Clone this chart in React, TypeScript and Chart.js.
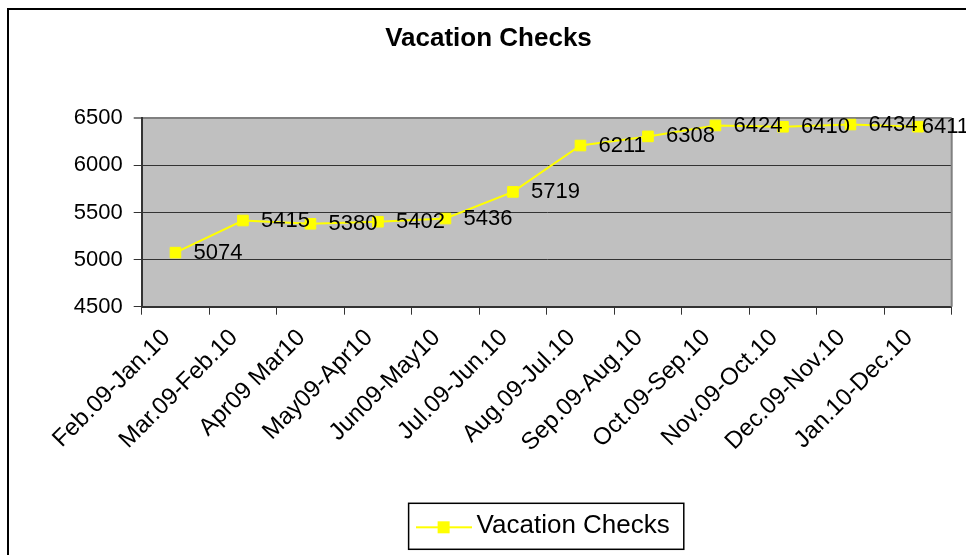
import React, { useEffect, useRef } from "react";
import { Chart, registerables } from "chart.js";

Chart.register(...registerables);

const chartTitle = "Vacation Checks";
const seriesName = "Vacation Checks";
const categories = [
  "Feb.09-Jan.10",
  "Mar.09-Feb.10",
  "Apr09 Mar10",
  "May09-Apr10",
  "Jun09-May10",
  "Jul.09-Jun.10",
  "Aug.09-Jul.10",
  "Sep.09-Aug.10",
  "Oct.09-Sep.10",
  "Nov.09-Oct.10",
  "Dec.09-Nov.10",
  "Jan.10-Dec.10",
];
const values = [5074, 5415, 5380, 5402, 5436, 5719, 6211, 6308, 6424, 6410, 6434, 6411];
const yMin = 4500;
const yMax = 6500;
const yStep = 500;

const FONT = "'Liberation Sans', Arial, Helvetica, sans-serif";
const CANVAS_W = 977;
const CANVAS_H = 575;

function makeLegendMarker(): HTMLCanvasElement {
  const c = document.createElement("canvas");
  c.width = 56;
  c.height = 16;
  const g = c.getContext("2d")!;
  g.strokeStyle = "#FFFF00";
  g.lineWidth = 2;
  g.beginPath();
  g.moveTo(0, 9);
  g.lineTo(56, 9);
  g.stroke();
  g.fillStyle = "#FFFF00";
  g.fillRect(22, 3, 12, 12);
  return c;
}

const backgroundPlugin = {
  id: "bgPlugin",
  beforeDraw(chart: any) {
    const { ctx, chartArea } = chart;
    ctx.save();
    ctx.fillStyle = "#FFFFFF";
    ctx.fillRect(0, 0, chart.width, chart.height);
    ctx.fillStyle = "#C0C0C0";
    ctx.fillRect(chartArea.left, chartArea.top, chartArea.right - chartArea.left, chartArea.bottom - chartArea.top);
    ctx.restore();
  },
  beforeDatasetsDraw(chart: any) {
    const { ctx, chartArea } = chart;
    ctx.save();
    ctx.strokeStyle = "#808080";
    ctx.lineWidth = 2;
    ctx.beginPath();
    ctx.moveTo(chartArea.right, chartArea.top);
    ctx.lineTo(chartArea.right, chartArea.bottom);
    ctx.stroke();
    ctx.restore();
  },
  afterDraw(chart: any) {
    const { ctx } = chart;
    ctx.save();
    ctx.strokeStyle = "#000000";
    ctx.lineWidth = 2;
    ctx.strokeRect(8, 9, 962, 620);
    const lg = chart.legend;
    if (lg && lg.legendHitBoxes && lg.legendHitBoxes.length) {
      const hb = lg.legendHitBoxes[0];
      ctx.lineWidth = 1.5;
      ctx.strokeStyle = "#000000";
      const left = hb.left - 15;
      const right = hb.left + hb.width + 14;
      ctx.strokeRect(left, lg.top, right - left, lg.bottom - lg.top);
    }
    ctx.restore();
  },
};

const dataLabelPlugin = {
  id: "dataLabels",
  afterDatasetsDraw(chart: any) {
    const ctx = chart.ctx;
    const meta = chart.getDatasetMeta(0);
    const ds = chart.data.datasets[0];
    ctx.save();
    ctx.font = `22px ${FONT}`;
    ctx.fillStyle = "#000000";
    ctx.textBaseline = "middle";
    ctx.textAlign = "left";
    const limit = chart.width - 8;
    meta.data.forEach((pt: any, i: number) => {
      const text = String(ds.data[i]);
      const w = ctx.measureText(text).width;
      let x = pt.x + 18;
      if (x + w > limit) x = limit - w;
      ctx.fillText(text, x, pt.y);
    });
    ctx.restore();
  },
};

export default function App() {
  const canvasRef = useRef<HTMLCanvasElement | null>(null);

  useEffect(() => {
    if (!canvasRef.current) return;
    const marker = makeLegendMarker();
    const chart = new Chart(canvasRef.current, {
      type: "line",
      data: {
        labels: categories,
        datasets: [
          {
            label: seriesName,
            data: values,
            borderColor: "#FFFF00",
            backgroundColor: "#FFFF00",
            borderWidth: 2,
            tension: 0,
            pointStyle: "rect",
            pointRadius: 7.5,
            pointBorderWidth: 1,
            pointBackgroundColor: "#FFFF00",
            pointBorderColor: "#FFFF00",
          },
        ],
      },
      options: {
        responsive: false,
        animation: false,
        devicePixelRatio: 1,
        layout: { padding: { top: 0, left: 25.3, right: 25.3, bottom: 25.7 } },
        plugins: {
          title: {
            display: true,
            text: chartTitle,
            color: "#000000",
            font: { family: FONT, size: 26, weight: "bold" },
            padding: { top: 23.4, bottom: 63.7 },
          },
          legend: {
            display: true,
            position: "bottom",
            fullSize: false,
            labels: {
              usePointStyle: true,
              pointStyleWidth: 40,
              padding: 10,
              color: "#000000",
              font: { family: FONT, size: 26 },
              generateLabels: (ch: any) =>
                ch.data.datasets.map((d: any, i: number) => ({
                  text: d.label,
                  fillStyle: "#FFFF00",
                  strokeStyle: "#FFFF00",
                  lineWidth: 0,
                  pointStyle: marker,
                  hidden: false,
                  datasetIndex: i,
                  fontColor: "#000000",
                })),
            },
          },
          tooltip: { enabled: false },
        },
        scales: {
          x: {
            offset: true,
            grid: {
              display: true,
              drawOnChartArea: false,
              drawTicks: true,
              tickLength: 8,
              offset: true,
              color: "#333333",
            },
            border: { display: true, color: "#333333", width: 2 },
            ticks: {
              autoSkip: false,
              minRotation: 45,
              maxRotation: 45,
              padding: 9,
              labelOffset: -9,
              color: "#000000",
              font: { family: FONT, size: 24 },
            },
            afterFit: (scale: any) => {
              scale.height = 196.6;
            },
          },
          y: {
            min: yMin,
            max: yMax,
            grid: {
              drawOnChartArea: true,
              drawTicks: true,
              tickLength: 8,
              color: (c: any) => (c.tick && c.tick.value === yMax ? "#808080" : "#333333"),
              lineWidth: (c: any) => (c.tick && c.tick.value === yMax ? 2 : 1),
            },
            border: { display: true, color: "#333333", width: 2 },
            ticks: {
              stepSize: yStep,
              padding: 11,
              color: "#000000",
              font: { family: FONT, size: 22 },
              callback: (v: any) => String(v),
            },
            afterFit: (scale: any) => {
              scale.width = 141.7 - 25.3;
            },
          },
        },
      },
      plugins: [backgroundPlugin, dataLabelPlugin],
    } as any);
    return () => chart.destroy();
  }, []);

  return (
    <div
      style={{
        position: "fixed",
        left: 0,
        top: 0,
        width: 966,
        height: 555,
        overflow: "hidden",
        background: "#FFFFFF",
      }}
    >
      <canvas
        ref={canvasRef}
        width={CANVAS_W}
        height={CANVAS_H}
        style={{ display: "block", width: CANVAS_W, height: CANVAS_H }}
      />
    </div>
  );
}
